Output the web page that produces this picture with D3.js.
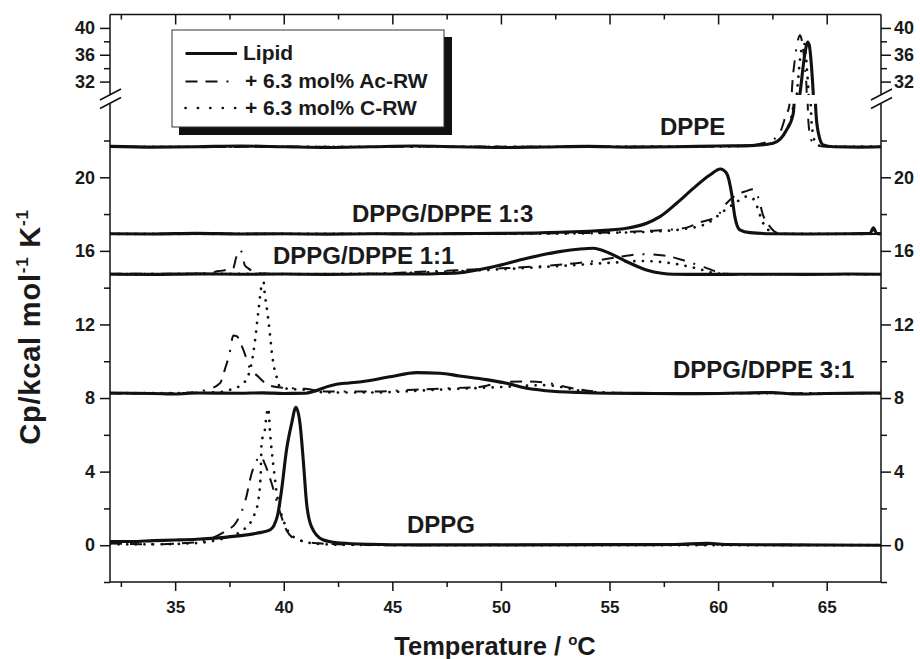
<!DOCTYPE html>
<html><head><meta charset="utf-8">
<script src="https://cdn.jsdelivr.net/npm/d3@7/dist/d3.min.js"></script>
<style>
body{margin:0;background:#fff}
text{font-family:"Liberation Sans",Arial,sans-serif;font-weight:bold;fill:#1a1a1a}
</style>
</head><body>
<svg id="c" width="920" height="659"></svg>
<script>
// ---------- data (temperature °C, Cp kcal/mol/K, offset curves as drawn) ----------
const seriesNames = ["Lipid", "+ 6.3 mol% Ac-RW", "+ 6.3 mol% C-RW"];
const xTicksMajor = [35, 40, 45, 50, 55, 60, 65];
const xTicksMinor = [32.5, 37.5, 42.5, 47.5, 52.5, 57.5, 62.5];
const yLowMajor = [0, 4, 8, 12, 16, 20];
const yLowMinor = [-2, 2, 6, 10, 14, 18, 22];
const yUpMajor = [32, 36, 40];
const yUpMinor = [34, 38];
const curveLabels = ["DPPE", "DPPG/DPPE 1:3", "DPPG/DPPE 1:1", "DPPG/DPPE 3:1", "DPPG"];

// DPPG
const dppgLipid = [[32,0.2],[33,0.2],[34,0.25],[35,0.28],[36,0.32],[37,0.4],[38,0.52],[38.75,0.65],[39.37,0.83],[39.7,1.55],[39.9,3.0],[40.13,5.2],[40.36,6.6],[40.56,7.5],[40.75,6.6],[40.9,4.6],[41.05,2.3],[41.28,1.0],[41.8,0.3],[42.6,0.12],[44,0.05],[46,0.02],[50,0.02],[55,0.03],[58,0.04],[59.5,0.1],[60.5,0.04],[63,0.02],[67.5,0.0]];
const dppgAcRW = [[32,0.1],[34,0.05],[35.5,0.12],[36.2,0.2],[36.68,0.38],[37.3,0.75],[37.83,1.28],[38.26,2.55],[38.52,3.9],[38.75,4.6],[38.94,4.85],[39.1,4.5],[39.44,3.37],[39.8,1.9],[40.16,0.74],[40.6,0.3],[41.6,0.1],[42.5,0.05],[45,0.0],[50,0.02],[60,0.03],[67.5,0.0]];
const dppgCRW = [[32,0.05],[34,0.05],[36,0.12],[37,0.3],[37.7,0.55],[38.14,0.83],[38.67,1.74],[38.83,2.46],[38.94,3.91],[38.98,5.54],[39.14,6.36],[39.2,7.03],[39.28,7.44],[39.39,5.82],[39.44,5.18],[39.52,4.36],[39.6,3.55],[39.7,2.64],[39.8,2.1],[40.1,1.0],[40.6,0.35],[41.5,0.08],[43,0.02],[50,0.0],[67.5,0.0]];
// DPPG/DPPE 3:1
const mix31Lipid = [[32,8.27],[34,8.25],[35,8.22],[36,8.27],[38,8.26],[39,8.28],[40,8.25],[41,8.26],[41.36,8.35],[42.0,8.62],[42.43,8.75],[43,8.82],[43.66,8.9],[44.9,9.16],[46.12,9.38],[47.19,9.35],[48.1,9.2],[49.34,9.0],[50.26,8.8],[51.18,8.53],[52.1,8.4],[53.6,8.3],[55,8.26],[57,8.25],[59,8.24],[61,8.27],[62.5,8.3],[63.5,8.22],[65,8.25],[67.5,8.27]];
const mix31AcRW = [[32,8.25],[34,8.25],[35.5,8.28],[36.45,8.45],[37.06,8.8],[37.3,9.6],[37.5,10.4],[37.68,11.4],[37.85,11.35],[38.0,11.0],[38.2,10.43],[38.37,9.8],[38.83,9.16],[39.3,8.7],[40,8.55],[41,8.5],[42,8.35],[44,8.35],[46,8.45],[48,8.55],[49,8.6],[50,8.85],[51,8.9],[52,8.85],[53,8.6],[54,8.4],[55,8.3],[57,8.26],[67.5,8.26]];
const mix31CRW = [[32,8.26],[36,8.28],[37,8.32],[37.5,8.44],[38.14,8.8],[38.52,9.9],[38.67,11.07],[38.83,12.7],[39.0,14.2],[39.07,14.3],[39.13,13.6],[39.21,12.97],[39.29,12.24],[39.37,11.43],[39.44,10.6],[39.52,9.9],[39.67,9.16],[39.8,8.66],[40.2,8.5],[41,8.45],[42,8.3],[44,8.3],[47,8.45],[50,8.6],[52,8.7],[54,8.35],[56,8.26],[67.5,8.26]];
// DPPG/DPPE 1:1
const mix11Lipid = [[32,14.73],[34,14.72],[36,14.75],[38,14.73],[40,14.74],[42,14.72],[44,14.74],[46,14.74],[47,14.76],[48,14.8],[49.65,15.14],[51.2,15.6],[52.7,15.96],[53.64,16.1],[54.25,16.14],[55.0,15.87],[55.8,15.41],[56.7,14.96],[57.4,14.78],[57.94,14.73],[60,14.72],[62,14.73],[64,14.72],[66,14.74],[67.5,14.73]];
const mix11AcRW = [[32,14.75],[34,14.76],[35.5,14.74],[36.45,14.78],[37.0,14.9],[37.67,15.05],[37.8,15.6],[37.98,16.05],[38.1,15.8],[38.2,15.23],[38.37,15.05],[38.6,14.87],[38.83,14.78],[40,14.74],[42,14.73],[44,14.75],[46,14.85],[48,14.95],[50,15.05],[52,15.18],[54,15.4],[55.5,15.68],[56.5,15.82],[57.5,15.75],[58.5,15.45],[59.5,15.05],[60.3,14.76],[61,14.73],[67.5,14.73]];
const mix11CRW = [[32,14.73],[38,14.75],[40,14.74],[44,14.75],[47,14.85],[50,15.0],[53,15.2],[55,15.35],[56.5,15.45],[58,15.3],[59,15.05],[59.8,14.8],[60.5,14.73],[67.5,14.73]];
// DPPG/DPPE 1:3
const mix13Lipid = [[32,16.93],[34,16.92],[36,16.95],[38,16.92],[40,16.93],[42,16.91],[44,16.93],[46,16.92],[48,16.94],[50,16.95],[52.72,17.01],[54.25,17.08],[55.79,17.23],[56.71,17.5],[57.32,17.86],[58.09,18.59],[58.86,19.4],[59.62,20.12],[60.1,20.45],[60.39,20.22],[60.62,19.13],[60.77,17.86],[61.0,17.14],[61.47,16.99],[62.5,16.93],[64,16.92],[66,16.93],[67.0,16.95],[67.15,17.25],[67.3,16.95],[67.5,16.93]];
const mix13AcRW = [[32,16.92],[50,16.93],[52,16.95],[55,17.0],[57,17.1],[58.5,17.25],[59.16,17.55],[59.93,17.86],[60.4,18.6],[60.85,19.05],[61.3,19.25],[61.6,19.35],[61.85,18.9],[62.08,17.9],[62.3,17.45],[62.6,17.05],[62.85,16.95],[64,16.92],[67.5,16.92]];
const mix13CRW = [[32,16.92],[52,16.93],[55,16.98],[57,17.05],[58.5,17.2],[59.5,17.5],[60.3,18.2],[60.9,18.7],[61.3,18.95],[61.55,18.9],[61.8,18.4],[62.0,17.7],[62.3,17.15],[62.8,16.93],[67.5,16.92]];
// DPPE
const dppeLipid = [[32,21.68],[34,21.64],[36,21.66],[38,21.7],[40,21.66],[42,21.62],[44,21.66],[46,21.7],[48,21.66],[50,21.62],[52,21.65],[54,21.68],[56,21.64],[58,21.66],[60,21.7],[61.5,21.72],[62.53,21.85],[63.15,22.57],[63.46,23.47],[63.6,26.5],[63.77,30.25],[64.0,36.25],[64.12,37.9],[64.2,37.4],[64.3,34.24],[64.38,30.25],[64.44,26],[64.5,23.6],[64.62,22.39],[64.84,21.76],[65.3,21.66],[66.5,21.64],[67.5,21.66]];
const dppeAcRW = [[32,21.66],[36,21.64],[40,21.67],[44,21.65],[48,21.68],[52,21.65],[56,21.66],[60,21.68],[61.5,21.74],[62.3,21.95],[62.7,22.2],[62.9,22.57],[63.1,23.3],[63.28,23.9],[63.34,27],[63.4,30.8],[63.53,35.2],[63.65,37.8],[63.77,38.9],[63.85,38.2],[63.92,36.7],[64.0,34],[64.07,31.2],[64.1,27],[64.13,23.8],[64.18,22.7],[64.3,22.0],[64.5,21.75],[65,21.66],[67.5,21.66]];
const dppeCRW = [[32,21.66],[40,21.66],[50,21.66],[60,21.67],[61.5,21.72],[62.5,21.85],[63.0,22.3],[63.3,23.0],[63.45,23.8],[63.55,27],[63.65,31],[63.78,35.5],[63.9,37.5],[63.98,37.6],[64.05,35.5],[64.15,31],[64.22,27],[64.28,23.5],[64.35,22.5],[64.5,21.85],[64.8,21.68],[67.5,21.66]];

const lipidCurves = [dppgLipid, mix31Lipid, mix11Lipid, mix13Lipid, dppeLipid];
const acCurves = [dppgAcRW, mix31AcRW, mix11AcRW, mix13AcRW, dppeAcRW];
const cCurves = [dppgCRW, mix31CRW, mix11CRW, mix13CRW, dppeCRW];

// ---------- layout ----------
const svg = d3.select("#c");
const L = 110, R = 881, B = 582, T = 14.5, lowTop = 103.7, upBot = 95;
const x = d3.scaleLinear().domain([32, 67.5]).range([L, R]);
const yLow = d3.scaleLinear().domain([-2, 24]).range([B, lowTop]);
const yUp = d3.scaleLinear().domain([30, 42]).range([upBot, T]);

const styles = [
  {w: 3.1, dash: null, cap: "butt"},
  {w: 2, dash: "12,8,12,9,2,9", cap: "butt"},
  {w: 2.7, dash: "0.1,8.5", cap: "round"}
];

const defs = svg.append("defs");
defs.append("clipPath").attr("id", "clipLow").append("rect")
  .attr("x", L).attr("y", lowTop).attr("width", R - L).attr("height", B - lowTop);
defs.append("clipPath").attr("id", "clipUp").append("rect")
  .attr("x", L).attr("y", T).attr("width", R - L).attr("height", upBot - T);

function drawSet(curves, st) {
  [["clipLow", yLow], ["clipUp", yUp]].forEach(([clip, ys]) => {
    const line = d3.line().x(d => x(d[0])).y(d => ys(d[1])).curve(d3.curveMonotoneX);
    const g = svg.append("g").attr("clip-path", `url(#${clip})`);
    g.selectAll("path").data(curves).join("path")
      .attr("d", line).attr("fill", "none").attr("stroke", "#111")
      .attr("stroke-width", st.w).attr("stroke-dasharray", st.dash)
      .attr("stroke-linecap", st.cap).attr("stroke-linejoin", "round");
  });
}
drawSet(cCurves, styles[2]);
drawSet(acCurves, styles[1]);
drawSet(lipidCurves, styles[0]);

// ---------- axes ----------
function styleAxis(size) {
  return g => {
    g.select(".domain").remove();
    g.selectAll("line").attr("stroke", "#111").attr("stroke-width", 1.5);
    g.selectAll("text").attr("font-size", size).attr("fill", "#1a1a1a")
      .attr("font-family", "Liberation Sans, Arial, sans-serif").attr("font-weight", "bold");
  };
}
// bottom
svg.append("g").attr("transform", `translate(0,${B})`)
  .call(d3.axisBottom(x).tickValues(xTicksMajor).tickSize(9).tickPadding(10).tickFormat(d3.format("d"))).call(styleAxis(17));
svg.append("g").attr("transform", `translate(0,${B})`)
  .call(d3.axisBottom(x).tickValues(xTicksMinor).tickSize(5).tickFormat("")).call(styleAxis(17));
// top (inward)
svg.append("g").attr("transform", `translate(0,${T})`)
  .call(d3.axisTop(x).tickValues(xTicksMajor).tickSize(-10).tickFormat("")).call(styleAxis(17));
svg.append("g").attr("transform", `translate(0,${T})`)
  .call(d3.axisTop(x).tickValues(xTicksMinor).tickSize(-5).tickFormat("")).call(styleAxis(17));
// left & right, both segments
[[yLow, yLowMajor, yLowMinor], [yUp, yUpMajor, yUpMinor]].forEach(([ys, maj, min]) => {
  svg.append("g").attr("transform", `translate(${L},0)`)
    .call(d3.axisLeft(ys).tickValues(maj).tickSize(10).tickPadding(5)).call(styleAxis(18));
  svg.append("g").attr("transform", `translate(${L},0)`)
    .call(d3.axisLeft(ys).tickValues(min).tickSize(6).tickFormat("")).call(styleAxis(18));
  svg.append("g").attr("transform", `translate(${R},0)`)
    .call(d3.axisRight(ys).tickValues(maj).tickSize(10).tickPadding(3)).call(styleAxis(18));
  svg.append("g").attr("transform", `translate(${R},0)`)
    .call(d3.axisRight(ys).tickValues(min).tickSize(6).tickFormat("")).call(styleAxis(18));
});

// frame lines
const frame = svg.append("g").attr("stroke", "#111").attr("stroke-width", 1.5).attr("fill", "none");
frame.append("line").attr("x1", L).attr("x2", R).attr("y1", B).attr("y2", B);
frame.append("line").attr("x1", L).attr("x2", R).attr("y1", T).attr("y2", T);
[L, R].forEach(xx => {
  frame.append("line").attr("x1", xx).attr("x2", xx).attr("y1", T).attr("y2", 94.6);
  frame.append("line").attr("x1", xx).attr("x2", xx).attr("y1", 103.2).attr("y2", B);
  frame.append("line").attr("x1", xx - 10).attr("y1", 100).attr("x2", xx + 11).attr("y2", 89);
  frame.append("line").attr("x1", xx - 10).attr("y1", 108.5).attr("x2", xx + 11).attr("y2", 97.5);
});

// ---------- curve labels ----------
const labelPos = [[660, 135], [352, 221.5], [273, 264], [673, 377.5], [407, 533]];
svg.append("g").selectAll("text").data(curveLabels).join("text")
  .attr("x", (d, i) => labelPos[i][0]).attr("y", (d, i) => labelPos[i][1])
  .attr("font-size", 24).text(d => d);

// ---------- legend ----------
const lg = svg.append("g");
lg.append("rect").attr("x", 179).attr("y", 37).attr("width", 273).attr("height", 98).attr("fill", "#111");
lg.append("rect").attr("x", 172).attr("y", 30).attr("width", 272).attr("height", 97)
  .attr("fill", "#fff").attr("stroke", "#333").attr("stroke-width", 1);
const rowY = [53.5, 81.5, 108];
seriesNames.forEach((name, i) => {
  lg.append("line").attr("x1", 185.5).attr("x2", 237).attr("y1", rowY[i]).attr("y2", rowY[i])
    .attr("stroke", "#111").attr("stroke-width", styles[i].w)
    .attr("stroke-dasharray", i === 2 ? "0.1,12.3" : styles[i].dash)
    .attr("stroke-linecap", styles[i].cap);
  lg.append("text").attr("x", i === 0 ? 243 : 245).attr("y", rowY[i] + 6.5)
    .attr("font-size", 21).text(name);
});

// ---------- axis titles ----------
const xt = svg.append("text").attr("x", 495).attr("y", 655).attr("text-anchor", "middle").attr("font-size", 25.5);
xt.append("tspan").text("Temperature / ");
xt.append("tspan").attr("font-size", 15).attr("dy", -10).text("o");
xt.append("tspan").attr("dy", 10).text("C");

const yt = svg.append("text").attr("transform", "translate(40,327) rotate(-90)")
  .attr("text-anchor", "middle").attr("font-size", 29).attr("letter-spacing", 0.8);
yt.append("tspan").text("Cp/kcal mol");
yt.append("tspan").attr("font-size", 17).attr("dy", -12).text("-1");
yt.append("tspan").attr("dy", 12).text(" K");
yt.append("tspan").attr("font-size", 17).attr("dy", -12).text("-1");
</script>
</body></html>
